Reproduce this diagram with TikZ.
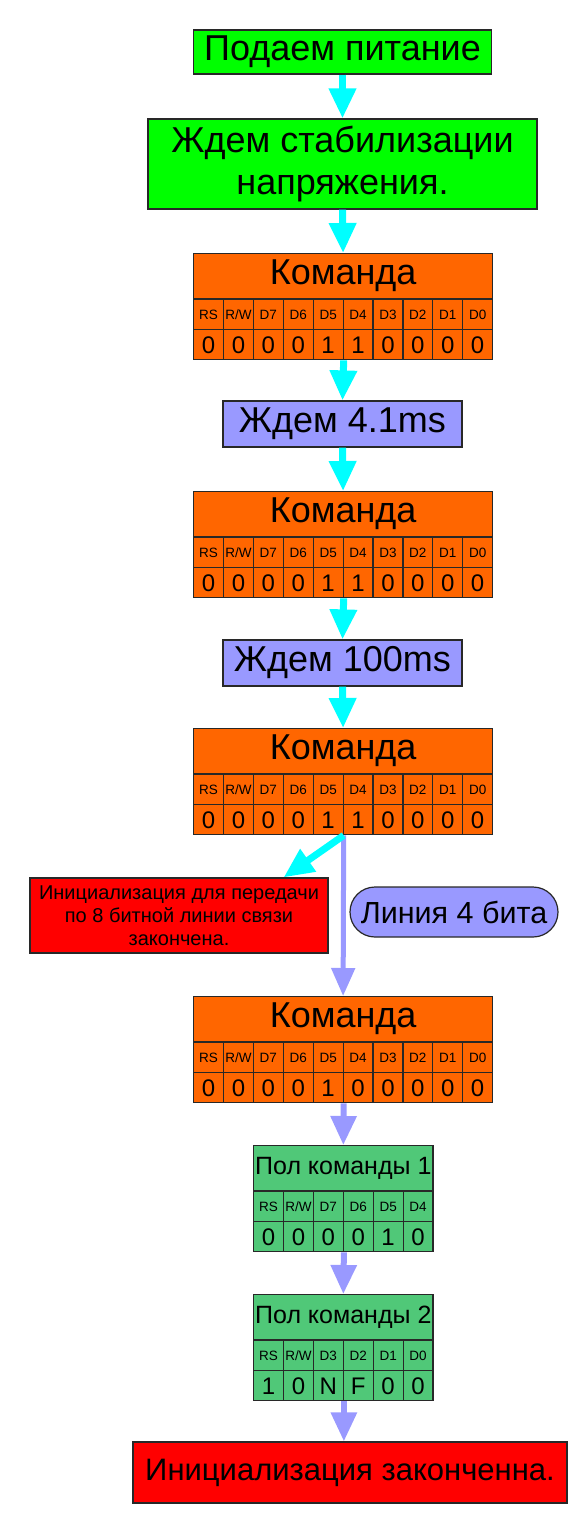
\documentclass[tikz,border=0pt]{standalone}
\usepackage{fontspec}
\setmainfont{Liberation Sans}
\usepackage{tikz}
\usetikzlibrary{arrows.meta,positioning,calc}
\definecolor{powergreen}{RGB}{0,255,0}
\definecolor{cmdorange}{RGB}{255,102,0}
\definecolor{waitblue}{RGB}{153,153,255}
\definecolor{donered}{RGB}{255,0,0}
\definecolor{halfgreen}{RGB}{80,200,120}
\definecolor{flowcyan}{RGB}{0,255,255}
\definecolor{edgegray}{RGB}{40,40,40}
\newcommand{\hugefont}{\fontsize{36}{42}\selectfont}
\newcommand{\halffont}{\fontsize{25}{28}\selectfont}
\tikzset{
  box/.style={draw=edgegray, line width=1.2pt, inner sep=0pt, align=center},
  titlecell/.style={box, minimum height=45pt},
  labcell/.style={box, minimum width=29.9pt, minimum height=30pt, font=\fontsize{13.5}{15}\selectfont},
  valcell/.style={box, minimum width=29.9pt, minimum height=30pt, font=\fontsize{24}{26}\selectfont},
  cyanarrow/.style={draw=flowcyan, line width=7pt, -{Triangle[width=26pt,length=30pt]}},
  bluearrow/.style={draw=waitblue, line width=6pt, -{Triangle[width=25pt,length=29pt]}},
}
% name, colour, top left, title options, title, labels, values
\newcommand{\bittable}[7]{%
  \node[titlecell, fill=#2, anchor=north west, #4] (#1) at #3 {#5};
  \foreach \lab [count=\i] in {#6}
    \node[labcell, fill=#2, anchor=north west] (#1-l\i) at ($(#1.south west)+({(\i-1)*29.9},0)$) {\lab};
  \foreach \val [count=\i] in {#7}
    \node[valcell, fill=#2, anchor=north west] (#1-v\i) at ($(#1.south west)+({(\i-1)*29.9},30)$) {\val};
}

\begin{document}
\begin{tikzpicture}[x=1pt, y=-1pt]
  \useasboundingbox (0,0) rectangle (581,1525);

  \node[box, fill=powergreen, minimum width=298pt, minimum height=44pt, font=\hugefont] (power) at (342.5,52) {Подаем питание};
  \node[box, fill=powergreen, minimum width=389pt, minimum height=90pt, font=\hugefont] (settle) at (342.5,164) {Ждем стабилизации\\напряжения.};

  \bittable{cmda}{cmdorange}{(193,253)}{minimum width=299pt, font=\hugefont}{Команда}
    {RS,{R/W},D7,D6,D5,D4,D3,D2,D1,D0}{0,0,0,0,1,1,0,0,0,0}
  \node[box, fill=waitblue, minimum width=239pt, minimum height=46pt, font=\hugefont] (waita) at (342.5,424) {Ждем 4.1ms};

  \bittable{cmdb}{cmdorange}{(193,491)}{minimum width=299pt, font=\hugefont}{Команда}
    {RS,{R/W},D7,D6,D5,D4,D3,D2,D1,D0}{0,0,0,0,1,1,0,0,0,0}
  \node[box, fill=waitblue, minimum width=239pt, minimum height=46pt, font=\hugefont] (waitb) at (342.5,663) {Ждем 100ms};

  \bittable{cmdc}{cmdorange}{(193,728)}{minimum width=299pt, font=\hugefont}{Команда}
    {RS,{R/W},D7,D6,D5,D4,D3,D2,D1,D0}{0,0,0,0,1,1,0,0,0,0}

  \node[box, fill=donered, minimum width=298pt, minimum height=75pt, font=\fontsize{20}{23}\selectfont] (initred) at (179,915.5)
    {Инициализация для передачи\\по 8 битной линии связи\\закончена.};
  \node[box, fill=waitblue, rounded corners=25pt, minimum width=208pt, minimum height=50pt, font=\fontsize{30.5}{34}\selectfont] (line4) at (454,912) {Линия 4 бита};

  \bittable{cmdd}{cmdorange}{(193,996)}{minimum width=299pt, font=\hugefont}{Команда}
    {RS,{R/W},D7,D6,D5,D4,D3,D2,D1,D0}{0,0,0,0,1,0,0,0,0,0}

  \bittable{halfa}{halfgreen}{(253,1145)}{minimum width=179.4pt, font=\halffont}{Пол команды 1}
    {RS,{R/W},D7,D6,D5,D4}{0,0,0,0,1,0}
  \bittable{halfb}{halfgreen}{(253,1294)}{minimum width=179.4pt, font=\halffont}{Пол команды 2}
    {RS,{R/W},D3,D2,D1,D0}{1,0,N,F,0,0}

  \node[box, fill=donered, minimum width=434pt, minimum height=61pt, font=\fontsize{31}{34}\selectfont] (done) at (350,1472.5) {Инициализация законченна.};

  % connectors
  \draw[cyanarrow] (power.south) -- (settle.north);
  \draw[cyanarrow] (settle.south) -- (cmda.north);
  \draw[cyanarrow] (cmda-v5.south east) -- (waita.north);
  \draw[cyanarrow] (waita.south) -- (cmdb.north);
  \draw[cyanarrow] (cmdb-v5.south east) -- (waitb.north);
  \draw[cyanarrow] (waitb.south) -- (cmdc.north);
  \draw[bluearrow, line width=5pt, -{Triangle[width=23pt,length=28pt]}] (cmdc-v5.south east) -- (cmdd.north);
  \draw[cyanarrow] (cmdc-v5.south east) -- ([xshift=-45pt]initred.north east);
  \draw[bluearrow] (cmdd-v5.south east) -- (halfa.north);
  \draw[bluearrow] (halfa-v3.south east) -- (halfb.north);
  \draw[bluearrow] (halfb-v3.south east) -- (halfb-v3.south east |- done.north);
\end{tikzpicture}
\end{document}
